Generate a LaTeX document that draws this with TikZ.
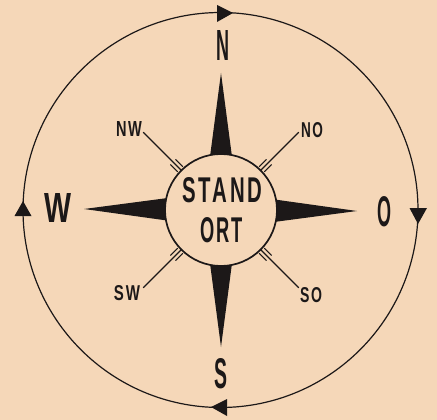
\documentclass[tikz,border=0pt]{standalone}
\usepackage{fontspec}
\setmainfont{Liberation Sans}
\usepackage{graphicx}
\definecolor{paper}{RGB}{245,215,184}
\definecolor{ink}{RGB}{28,24,24}
\newcommand{\cond}[3]{\resizebox{#1pt}{#2pt}{\bfseries #3}}
\newcommand{\gp}{\hspace{0.12em}}
\begin{document}
\begin{tikzpicture}[x=1pt,y=-1pt,
  txt/.style={inner sep=0pt, text=ink},
  arm/.style={fill=ink},
  tipmark/.style={fill=ink},
  ray/.style={draw=ink, line width=1.3pt}]
\fill[paper] (0,0) rectangle (437,420);
\useasboundingbox (0,0) rectangle (437,420);
% outer circle with clockwise arrows
\draw[ink, line width=1.2pt] (220.5,210) circle (197.5);
\fill[tipmark] (233,13) -- (217,5) -- (217,22) -- cycle;
\fill[tipmark] (418,224) -- (409.5,208) -- (427,208) -- cycle;
\fill[tipmark] (211,407) -- (227,399) -- (227,416) -- cycle;
\fill[tipmark] (23,201) -- (14.5,216) -- (31.5,216) -- cycle;
% star arms
\fill[arm] (221,73) -- (203,210) -- (239,210) -- cycle;
\fill[arm] (221,347) -- (203,210) -- (239,210) -- cycle;
\fill[arm] (84,209) -- (221,191) -- (221,228) -- cycle;
\fill[arm] (357,211) -- (221,192) -- (221,229) -- cycle;
% diagonal rays
\foreach \a/\dx/\dy in {nw/-1/-1, no/1/-1, sw/-1/1, so/1/1}{
  \begin{scope}[shift={(221,210)}, rotate={atan2(\dy,\dx)}]
    \draw[ray] (56,0) -- (110,0);
    \draw[ray, line width=1pt] (57.5,3.6) -- (68,3.6);
    \draw[ray, line width=1pt] (57.5,-3.6) -- (68,-3.6);
  \end{scope}
}
% centre circle
\node[circle, draw=ink, line width=1.7pt, fill=paper, minimum size=112pt, inner sep=0pt] (st) at (221,210) {};
\node[txt] (stand) at (222,190.5) {\cond{80}{25}{S\gp T\gp A\gp N\gp D}};
\node[txt] (ort) at (221.5,230.5) {\cond{43}{25}{O\gp R\gp T}};
% cardinal labels
\node[txt] (n) at (222.5,45) {\cond{13}{30}{N}};
\node[txt] (s) at (221,374) {\cond{13}{30}{S}};
\node[txt] (w) at (58.5,208) {\cond{27}{29}{W}};
\node[txt] (o) at (384,212) {\cond{14}{30}{O}};
% intercardinal labels
\node[txt] (nwl) at (129,129.5) {\cond{26}{15}{N\gp W}};
\node[txt] (nol) at (312,130.5) {\cond{22}{15}{N\gp O}};
\node[txt] (swl) at (127,293) {\cond{26}{15}{S\gp W}};
\node[txt] (sol) at (311,295.5) {\cond{22}{15}{S\gp O}};
\end{tikzpicture}
\end{document}
